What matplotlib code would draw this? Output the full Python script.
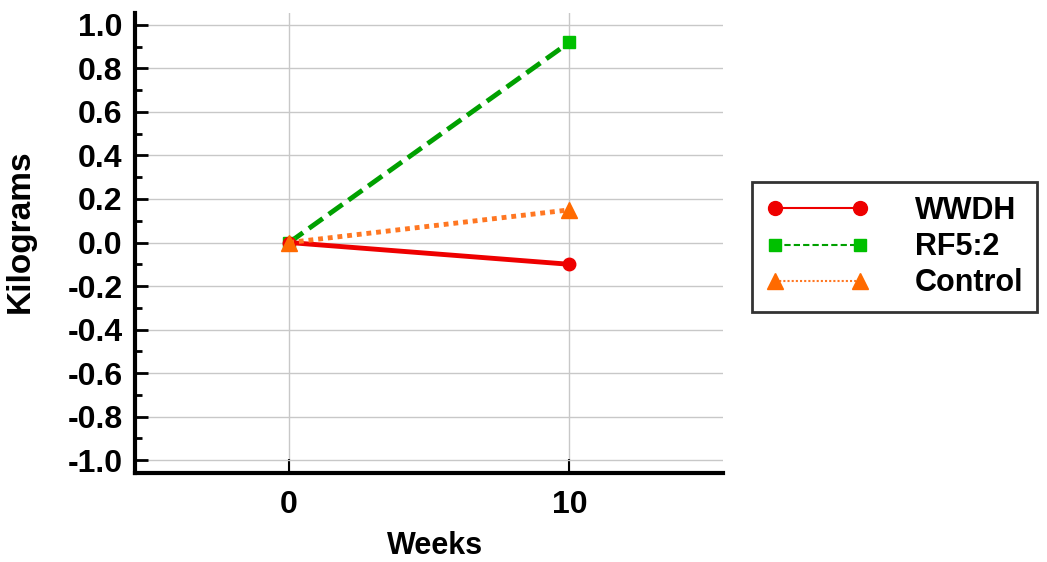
import matplotlib.pyplot as plt
from matplotlib.lines import Line2D

plt.rcParams['font.family'] = ['Liberation Sans', 'DejaVu Sans']
plt.rcParams['font.weight'] = 'bold'

weeks = [0, 10]
wwdh = [0.0, -0.10]
rf52 = [0.0, 0.92]
control = [0.0, 0.15]

fig = plt.figure(figsize=(10.47, 5.62), dpi=100)
ax = fig.add_axes([0.129, 0.158, 0.562, 0.819])

red = '#ee0000'
green_line = '#00a000'
green_mark = '#00c000'
orange = '#ff6a00'

ax.plot(weeks, wwdh, color=red, lw=3.5, ls='-', marker='o', ms=9, zorder=4)
ax.plot(weeks, rf52, color=green_line, lw=3.5, ls=(0, (3.5, 1.5)), marker='s', ms=9,
        mfc=green_mark, mec=green_mark, zorder=3)
ax.plot(weeks, control, color='#ff7722', lw=3.5, ls=(0, (1, 1)), marker='^', ms=12,
        mfc=orange, mec=orange, zorder=5)

ax.set_xlim(-5.5, 15.5)
ax.set_ylim(-1.06, 1.055)
ax.set_xticks(weeks)
ax.set_yticks([i / 10 for i in range(-10, 11, 2)])
ax.set_yticks([i / 10 for i in range(-10, 11)], minor=True)
ax.set_yticklabels([f'{i / 10:.1f}' for i in range(-10, 11, 2)])

ax.grid(True, which='major', color='#c8c8c8', lw=1)
ax.set_axisbelow(True)
for s in ['top', 'right']:
    ax.spines[s].set_visible(False)
for s in ['left', 'bottom']:
    ax.spines[s].set_linewidth(3)

ax.tick_params(axis='y', which='major', direction='in', length=9, width=2, labelsize=23, pad=9)
ax.tick_params(axis='y', which='minor', direction='in', length=5, width=2)
ax.tick_params(axis='x', which='major', direction='in', length=10, width=1.5, labelsize=23, pad=12)

ax.set_xlabel('Weeks', fontsize=22, fontweight='bold')
ax.set_ylabel('Kilograms', fontsize=24, fontweight='bold')
ax.xaxis.set_label_coords(0.51, -0.125)
ax.yaxis.set_label_coords(-0.168, 0.526)

handles = [
    Line2D([], [], color=red, lw=1.5, marker='o', ms=10, mfc=red, mec=red),
    Line2D([], [], color=green_line, lw=1.5, ls=(0, (3, 1.5)), marker='s', ms=9, mfc=green_mark, mec=green_mark),
    Line2D([], [], color='#ff7722', lw=1.5, ls=(0, (1, 1)), marker='^', ms=11, mfc=orange, mec=orange),
]
leg = fig.legend(handles, ['WWDH', 'RF5:2', 'Control'], loc='center left',
                 bbox_to_anchor=(0.718, 0.56), numpoints=2, handlelength=3.4,
                 handletextpad=1.5, fontsize=22, frameon=True, fancybox=False,
                 borderpad=0.45, labelspacing=0.2, borderaxespad=0)
leg.get_frame().set_edgecolor('black')
leg.get_frame().set_linewidth(2)

fig.savefig('out.png', dpi=100)
